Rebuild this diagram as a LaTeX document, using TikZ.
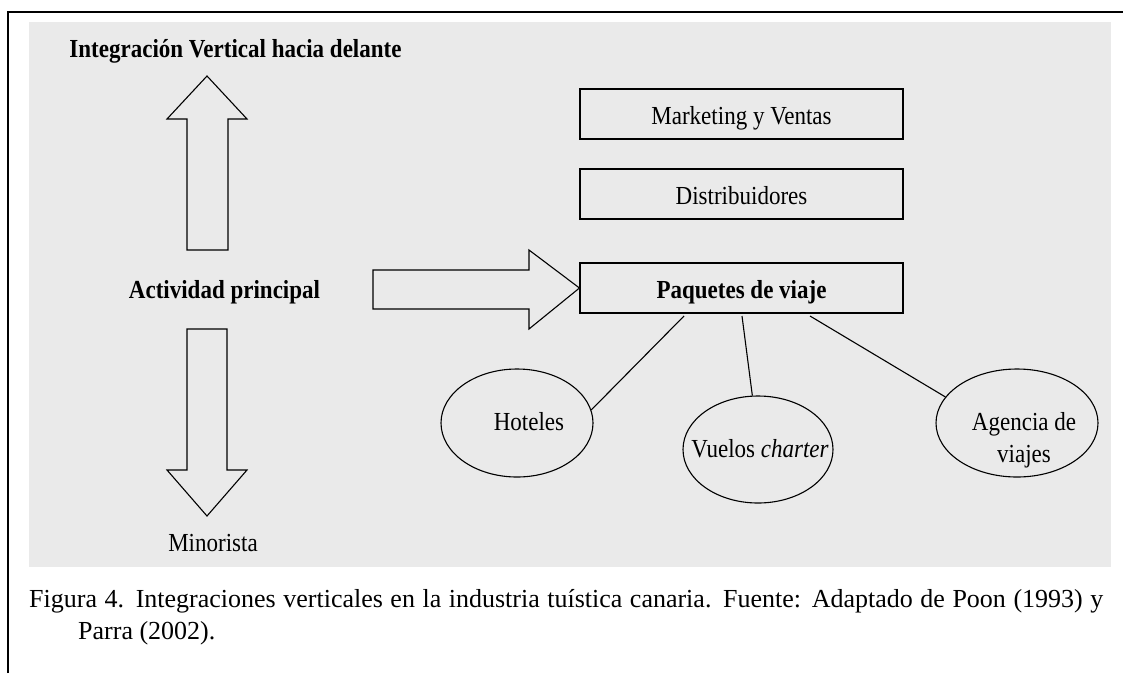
\documentclass[tikz,border=0pt]{standalone}
\usepackage{fontspec}
\setmainfont{Liberation Serif}
\newfontfamily\diagfont[FakeStretch=0.885]{Liberation Serif}
\usetikzlibrary{shapes.geometric}
\definecolor{fondo}{RGB}{234,234,234}
\newcommand{\letrafig}{\diagfont\fontsize{26}{32}\selectfont}
\newcommand{\letrapie}{\fontsize{26}{33}\selectfont}

\tikzset{
  caja/.style={draw, line width=1.1pt, minimum width=323pt, minimum height=50pt,
    inner sep=0pt, text height=20pt, text depth=0pt, font=\letrafig},
  elipse/.style={draw, ellipse, line width=1.1pt, inner sep=0pt},
  texto/.style={anchor=base, inner sep=0pt, font=\letrafig},
  flecha/.style={draw, line width=1.1pt, fill=fondo, line join=miter},
  linea/.style={line width=1.1pt}
}

\begin{document}
\begin{tikzpicture}[x=1pt, y=-1pt]
  \useasboundingbox (0,0) rectangle (1123,673);
  \fill[white] (0,0) rectangle (1123,673);
  \draw[line width=2pt](8, 673) to (8, 12) to (1123, 12);
  \fill[fondo] (29, 22) rectangle (1111, 567);

  \node[texto] (titulo) at (235.5, 57){\textbf{Integración Vertical hacia delante}};
  \node[texto] (actividad) at (224.5, 298){\textbf{Actividad principal}};
  \node[texto] (minorista) at (213, 551){Minorista};

  % flechas
  \draw[flecha](187, 250) -- (187, 119) -- (167, 119) -- (207, 76)
    -- (247, 119) -- (228, 119) -- (228, 250) -- cycle;
  \draw[flecha](187, 329) -- (187, 470) -- (167, 470) -- (207, 516)
    -- (247, 470) -- (227, 470) -- (227, 329) -- cycle;

  \node[caja] (marketing) at (741.5, 114){Marketing y Ventas};
  \node[caja] (distrib) at (741.5, 194){Distribuidores};
  \node[caja] (paquetes) at (741.5, 288){\textbf{Paquetes de viaje}};

  \draw[flecha](373, 270) -- (529, 270) -- (529, 250) -- (paquetes.west)
    -- (529, 329) -- (529, 309) -- (373, 309) -- cycle;

  \node[elipse, minimum width=152pt, minimum height=108pt] (hoteles) at (517, 423){};
  \node[elipse, minimum width=150pt, minimum height=107pt] (vuelos) at (758, 449.5){};
  \node[elipse, minimum width=162pt, minimum height=108pt] (agencia) at (1017, 423){};

  \node[texto] (thoteles) at (529, 430){Hoteles};
  \node[texto] (tvuelos) at (760, 457){Vuelos \textit{charter}};
  \node[inner sep=0pt, align=center, font=\letrafig] (tagencia) at (1024, 440){Agencia de\\viajes};

  \coordinate (p1) at (684, 316);
  \coordinate (p2) at (742, 316);
  \coordinate (p3) at (810, 316);
  \draw[linea](p1) to (hoteles.10);
  \draw[linea](p2) to (vuelos.96);
  \draw[linea](p3) to (agencia.160);

  \node[anchor=base west, inner sep=0pt, font=\letrapie] (pie1) at (29, 607)
    {\makebox[1074pt][s]{Figura 4. Integraciones verticales en la industria tuística canaria. Fuente: Adaptado de Poon (1993) y}};
  \node[anchor=base west, inner sep=0pt, font=\letrapie] (pie2) at (78, 639){Parra (2002).};
\end{tikzpicture}
\end{document}
